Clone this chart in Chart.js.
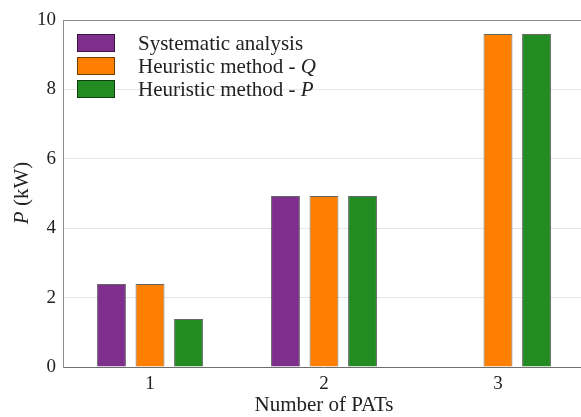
<!DOCTYPE html>
<html>
<head>
<meta charset="utf-8">
<script src="https://cdn.jsdelivr.net/npm/chart.js@4/dist/chart.umd.min.js"></script>
<style>
    html, body { margin: 0; padding: 0; background: #fff; overflow: hidden; }
    #wrap { position: relative; width: 585px; height: 417px; }
</style>
</head>
<body>
<div id="wrap"><canvas id="patChart"></canvas></div>
<script>
// chart data
const categories = ['1', '2', '3'];
const systematicValues = [2.39, 4.93, null];
const heuristicQValues = [2.39, 4.93, 9.6];
const heuristicPValues = [1.38, 4.93, 9.6];
const yTicks = [0, 2, 4, 6, 8, 10];

const seriesNames = ['Systematic analysis', 'Heuristic method - ', 'Heuristic method - '];
const seriesItalic = ['', 'Q', 'P'];
const seriesColors = ['#7e2f8e', '#ff8000', '#228b22'];

const FONT = '"Liberation Serif", serif';
const TITLE_SIZE = 21;

// legend, axis titles and top frame line drawn over the plot
const overlayPlugin = {
    id: 'overlay',
    afterDraw(chart) {
        const ctx = chart.ctx;
        const area = chart.chartArea;
        const plain = TITLE_SIZE + 'px ' + FONT;
        const italic = 'italic ' + TITLE_SIZE + 'px ' + FONT;
        ctx.save();

        // top border of the plot box
        ctx.strokeStyle = '#8c8c8c';
        ctx.lineWidth = 1;
        ctx.beginPath();
        ctx.moveTo(area.left, area.top + 0.5);
        ctx.lineTo(area.right, area.top + 0.5);
        ctx.stroke();

        // legend
        ctx.textBaseline = 'middle';
        ctx.textAlign = 'left';
        for (let i = 0; i < 3; i++) {
            const y = 43 + i * 23;
            ctx.fillStyle = seriesColors[i];
            ctx.fillRect(77, y - 9, 38, 18);
            ctx.strokeStyle = 'rgba(0,0,0,0.55)';
            ctx.strokeRect(77.5, y - 8.5, 37, 17);
            ctx.fillStyle = '#222';
            ctx.font = plain;
            ctx.fillText(seriesNames[i], 138, y + 1);
            if (seriesItalic[i]) {
                const w = ctx.measureText(seriesNames[i]).width;
                ctx.font = italic;
                ctx.fillText(seriesItalic[i], 138 + w, y + 1);
            }
        }

        // x axis title
        ctx.font = plain;
        ctx.textAlign = 'center';
        ctx.fillText('Number of PATs', (area.left + area.right) / 2, 405);

        // y axis title, rotated
        ctx.translate(22, 193);
        ctx.rotate(-Math.PI / 2);
        ctx.font = italic;
        const pW = ctx.measureText('P').width;
        ctx.font = plain;
        const restW = ctx.measureText(' (kW)').width;
        const start = -(pW + restW) / 2;
        ctx.textAlign = 'left';
        ctx.font = italic;
        ctx.fillText('P', start, 0);
        ctx.font = plain;
        ctx.fillText(' (kW)', start + pW, 0);

        ctx.restore();
    }
};

function makeDataset(label, values, color) {
    return {
        label: label,
        data: values,
        backgroundColor: color,
        borderColor: 'rgba(0,0,0,0.6)',
        borderWidth: 1,
        categoryPercentage: 0.664,
        barPercentage: 0.75
    };
}

function createChart() {
    const ctx = document.getElementById('patChart').getContext('2d');
    new Chart(ctx, {
        type: 'bar',
        data: {
            labels: categories,
            datasets: [
                makeDataset('Systematic analysis', systematicValues, seriesColors[0]),
                makeDataset('Heuristic method - Q', heuristicQValues, seriesColors[1]),
                makeDataset('Heuristic method - P', heuristicPValues, seriesColors[2])
            ]
        },
        options: {
            responsive: true,
            maintainAspectRatio: false,
            animation: false,
            layout: { padding: { top: 20, left: 0, right: 0, bottom: 0 } },
            plugins: {
                legend: { display: false },
                tooltip: { enabled: false }
            },
            scales: {
                x: {
                    grid: { display: false, drawTicks: false },
                    border: { color: '#6e6e6e', width: 1 },
                    ticks: {
                        color: '#222',
                        font: { family: FONT, size: 19 },
                        padding: 6
                    },
                    afterFit(scale) { scale.height = 50; }
                },
                y: {
                    min: 0,
                    max: 10,
                    grid: { color: '#e6e6e6', drawTicks: false },
                    border: { color: '#8c8c8c', width: 1 },
                    ticks: {
                        color: '#222',
                        font: { family: FONT, size: 19 },
                        padding: 7
                    },
                    afterBuildTicks(scale) {
                        scale.ticks = yTicks.map(v => ({ value: v }));
                    },
                    afterFit(scale) { scale.width = 63; }
                }
            }
        },
        plugins: [overlayPlugin]
    });
}

createChart();
</script>
</body>
</html>
